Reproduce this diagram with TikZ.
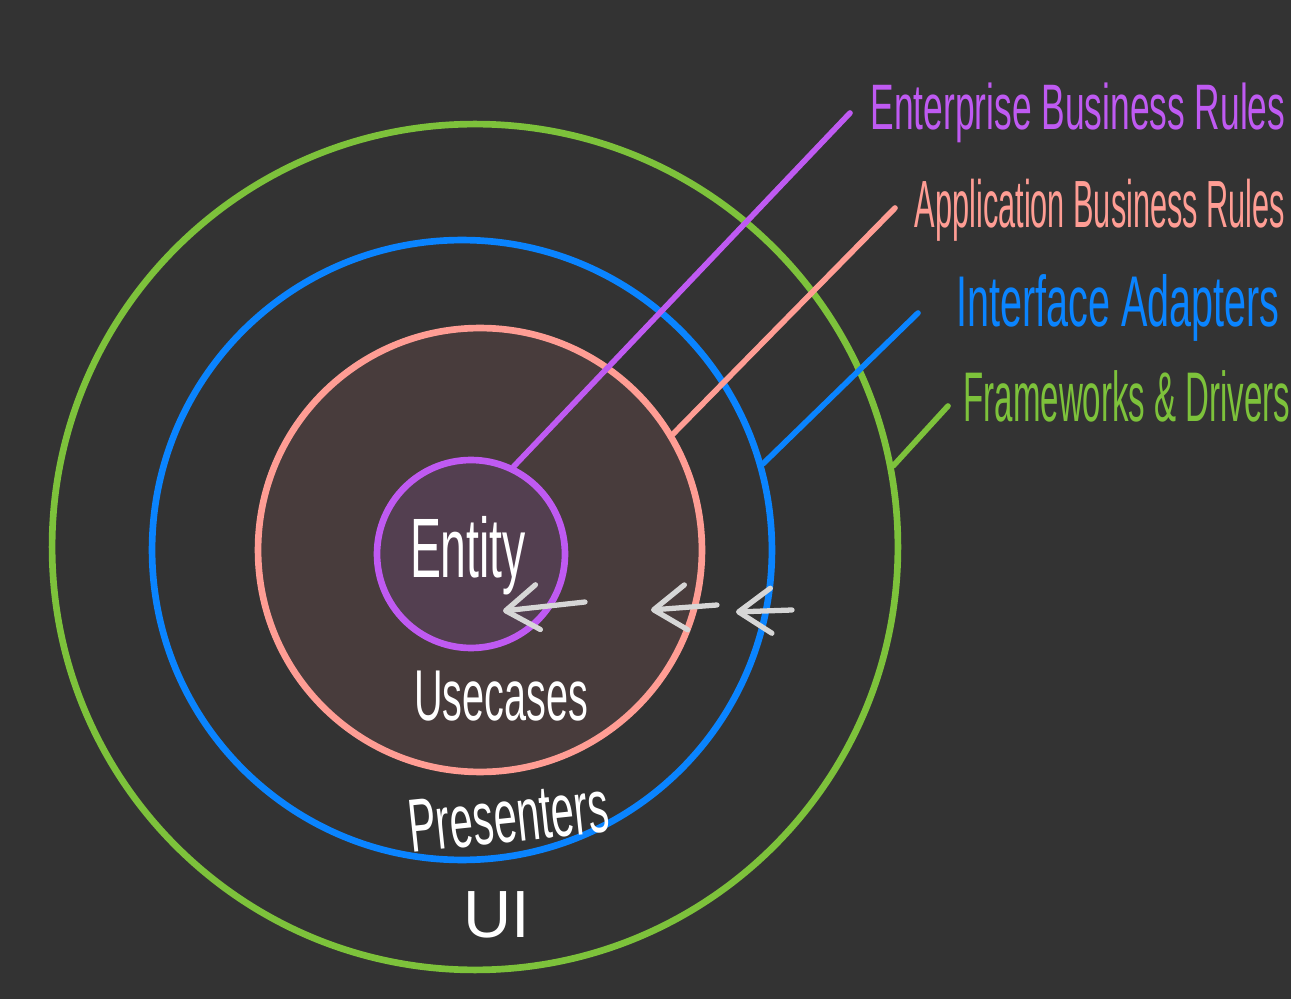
\documentclass[tikz,border=0pt]{standalone}
\usepackage{fontspec}
\newfontfamily\handfont[FakeStretch=0.55]{Liberation Sans}
\usetikzlibrary{arrows.meta}

\definecolor{bgcol}{HTML}{333333}
\definecolor{entpurple}{HTML}{BF5AF2}
\definecolor{apppink}{HTML}{FF9D94}
\definecolor{ifblue}{HTML}{0A84FF}
\definecolor{fwgreen}{HTML}{7DC23B}
\definecolor{pinkfill}{HTML}{483C3C}
\definecolor{purplefill}{HTML}{533F50}
\definecolor{flowgray}{HTML}{D6D6D6}

\begin{document}
\begin{tikzpicture}[x=0.02cm,y=-0.02cm,
  ring/.style={circle,draw=#1,line width=3.8pt,inner sep=0pt},
  leader/.style={draw=#1,line width=3.2pt,line cap=round},
  flow/.style={draw=flowgray,line width=3pt,line cap=round,
    -{Straight Barb[length=6.5mm,width=9mm,round]}},
  tag/.style={text=#1,anchor=base,inner sep=0pt}]

\useasboundingbox (0,0) rectangle (1291,999);
\fill[bgcol] (0,0) rectangle (1291,999);

% rings, outside in
\node[ring=fwgreen,minimum size=16.92cm] (fw) at (475,547) {};
\node[ring=ifblue,minimum size=12.4cm] (ia) at (462,550) {};
\node[ring=apppink,fill=pinkfill,minimum size=8.88cm] (app) at (480,550) {};
\node[ring=entpurple,fill=purplefill,minimum size=3.76cm] (ent) at (471,554) {};

% layer names
\node[tag=entpurple,font={\handfont\fontsize{36.6pt}{40pt}\selectfont}] (entlbl) at (1078,130) {Enterprise Business Rules};
\node[tag=apppink,font={\handfont\addfontfeature{FakeStretch=0.46}\fontsize{38pt}{42pt}\selectfont}] (applbl) at (1100,228) {Application Business Rules};
\node[tag=ifblue,font={\handfont\fontsize{40.9pt}{44pt}\selectfont}] (ialbl) at (1118,327) {Interface Adapters};
\node[tag=fwgreen,font={\handfont\addfontfeature{FakeStretch=0.47}\fontsize{40pt}{44pt}\selectfont}] (fwlbl) at (1127,422) {Frameworks \& Drivers};

\coordinate (entend) at (850,113);
\coordinate (append) at (895,208);
\coordinate (iaend)  at (918,313);
\coordinate (fwend)  at (948,406);

\draw[leader=entpurple] (ent.64)  -- (entend);
\draw[leader=apppink]   (app.31)  -- (append);
\draw[leader=ifblue]    (ia.16)   -- (iaend);
\draw[leader=fwgreen]   (fw.11)   -- (fwend);

% dependency direction
\coordinate (f1s) at (585,602);
\coordinate (f1e) at (503,611);
\coordinate (f2s) at (717,605);
\coordinate (f2e) at (651,610);
\coordinate (f3s) at (792,610);
\coordinate (f3e) at (736,612);

\draw[flow] (f1s) -- (f1e);
\draw[flow] (f2s) -- (f2e);
\draw[flow] (f3s) -- (f3e);

% texts in the rings
\node[tag=white,font={\handfont\fontsize{48pt}{52pt}\selectfont}] (entitylbl) at (468,578) {Entity};
\node[tag=white,font={\handfont\fontsize{41pt}{45pt}\selectfont}] (uclbl) at (501,720) {Usecases};
\node[tag=white,font={\handfont\fontsize{43pt}{47pt}\selectfont},rotate=6] (preslbl) at (511,842) {Presenters};
\node[tag=white,font={\handfont\addfontfeature{FakeStretch=1}\fontsize{38pt}{42pt}\selectfont}] (uilbl) at (497,937) {UI};

\end{tikzpicture}
\end{document}
